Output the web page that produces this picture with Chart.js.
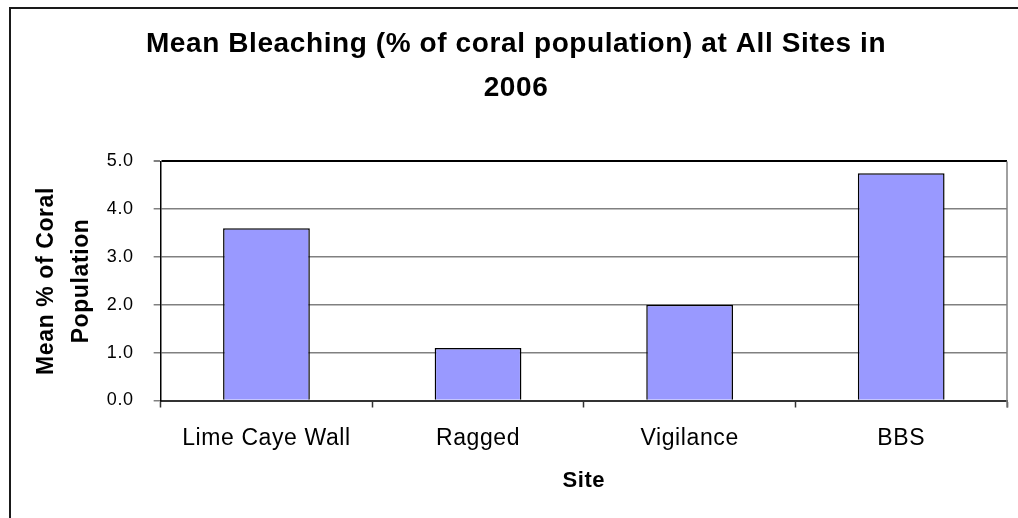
<!DOCTYPE html>
<html>
<head>
<meta charset="utf-8">
<script src="https://cdn.jsdelivr.net/npm/chart.js@4.4.1/dist/chart.umd.min.js"></script>
<style>
  html, body { margin: 0; padding: 0; background: #fff; overflow: hidden; }
  #wrap { position: relative; width: 1018px; height: 518px; }
  #frame { position: absolute; left: 9px; top: 7px; width: 1100px; height: 600px;
           border-left: 2px solid #1a1a1a; border-top: 2px solid #1a1a1a; }
  #chart { position: absolute; left: 0; top: 0; }
</style>
</head>
<body>
<div id="wrap">
  <div id="frame"></div>
  <canvas id="chart" width="1018" height="518"></canvas>
</div>
<script>
// bleaching survey, 2006
const sites = ['Lime Caye Wall', 'Ragged', 'Vigilance', 'BBS'];
const meanBleaching = [3.6, 1.1, 2.0, 4.75];
const yMin = 0, yMax = 5, yStep = 1;

const FONT = 'Arial, "Liberation Sans", sans-serif';

// old spreadsheet text is spaced a little wider than the canvas default
const spacing = {
  id: 'spacing',
  beforeUpdate(chart) { chart.ctx.letterSpacing = '0.6px'; },
  beforeDraw(chart) { chart.ctx.letterSpacing = '0.6px'; }
};

// right edge of the plot area, with its little tick below the axis
const plotEdge = {
  id: 'plotEdge',
  afterDraw(chart) {
    const { ctx, chartArea: a } = chart;
    ctx.save();
    ctx.strokeStyle = '#808080';
    ctx.lineWidth = 1.5;
    ctx.beginPath();
    ctx.moveTo(a.right, a.top);
    ctx.lineTo(a.right, a.bottom + 7);
    ctx.stroke();
    ctx.restore();
  }
};

// note: chart.js reserves tick padding on both sides of the labels,
// the negative title paddings below take the extra space back
new Chart(document.getElementById('chart'), {
  type: 'bar',
  data: {
    labels: sites,
    datasets: [{
      data: meanBleaching,
      backgroundColor: '#9999FF',
      borderColor: '#000',
      borderWidth: 1.5,
      barPercentage: 0.41,
      categoryPercentage: 1
    }]
  },
  options: {
    responsive: false,
    animation: false,
    devicePixelRatio: 1,
    layout: { padding: { left: 25, right: 11, top: 0, bottom: 23.8 } },
    plugins: {
      legend: { display: false },
      tooltip: { enabled: false },
      title: {
        display: true,
        text: ['Mean Bleaching (% of coral population) at All Sites in', '2006'],
        color: '#000',
        font: { family: FONT, size: 28, weight: 'bold', lineHeight: 1.57 },
        padding: { top: 22, bottom: 51.5 }
      }
    },
    scales: {
      x: {
        offset: true,
        grid: {
          offset: true,
          drawOnChartArea: false,
          tickLength: 7,
          tickColor: '#333',
          tickWidth: 1.5
        },
        border: { color: '#333', width: 2 },
        ticks: { color: '#000', font: { family: FONT, size: 23 }, padding: 17 },
        title: {
          display: true,
          text: 'Site',
          color: '#000',
          font: { family: FONT, size: 22, weight: 'bold' },
          padding: { top: -1.3, bottom: 0 }
        }
      },
      y: {
        min: yMin,
        max: yMax,
        ticks: {
          stepSize: yStep,
          color: '#000',
          font: { family: FONT, size: 18 },
          padding: 20,
          callback: v => v.toFixed(1)
        },
        grid: {
          color: c => c.tick && c.tick.value === yMax ? '#000' : '#808080',
          lineWidth: c => c.tick && c.tick.value === yMax ? 2 : 1.5,
          tickLength: 7,
          tickColor: '#808080'
        },
        border: { color: '#000', width: 1.5 },
        title: {
          display: true,
          text: ['Mean % of Coral', 'Population'],
          color: '#000',
          font: { family: FONT, size: 23, weight: 'bold', lineHeight: 1.54 },
          padding: { top: 4, bottom: -13 }
        }
      }
    }
  },
  plugins: [spacing, plotEdge]
});
</script>
</body>
</html>
